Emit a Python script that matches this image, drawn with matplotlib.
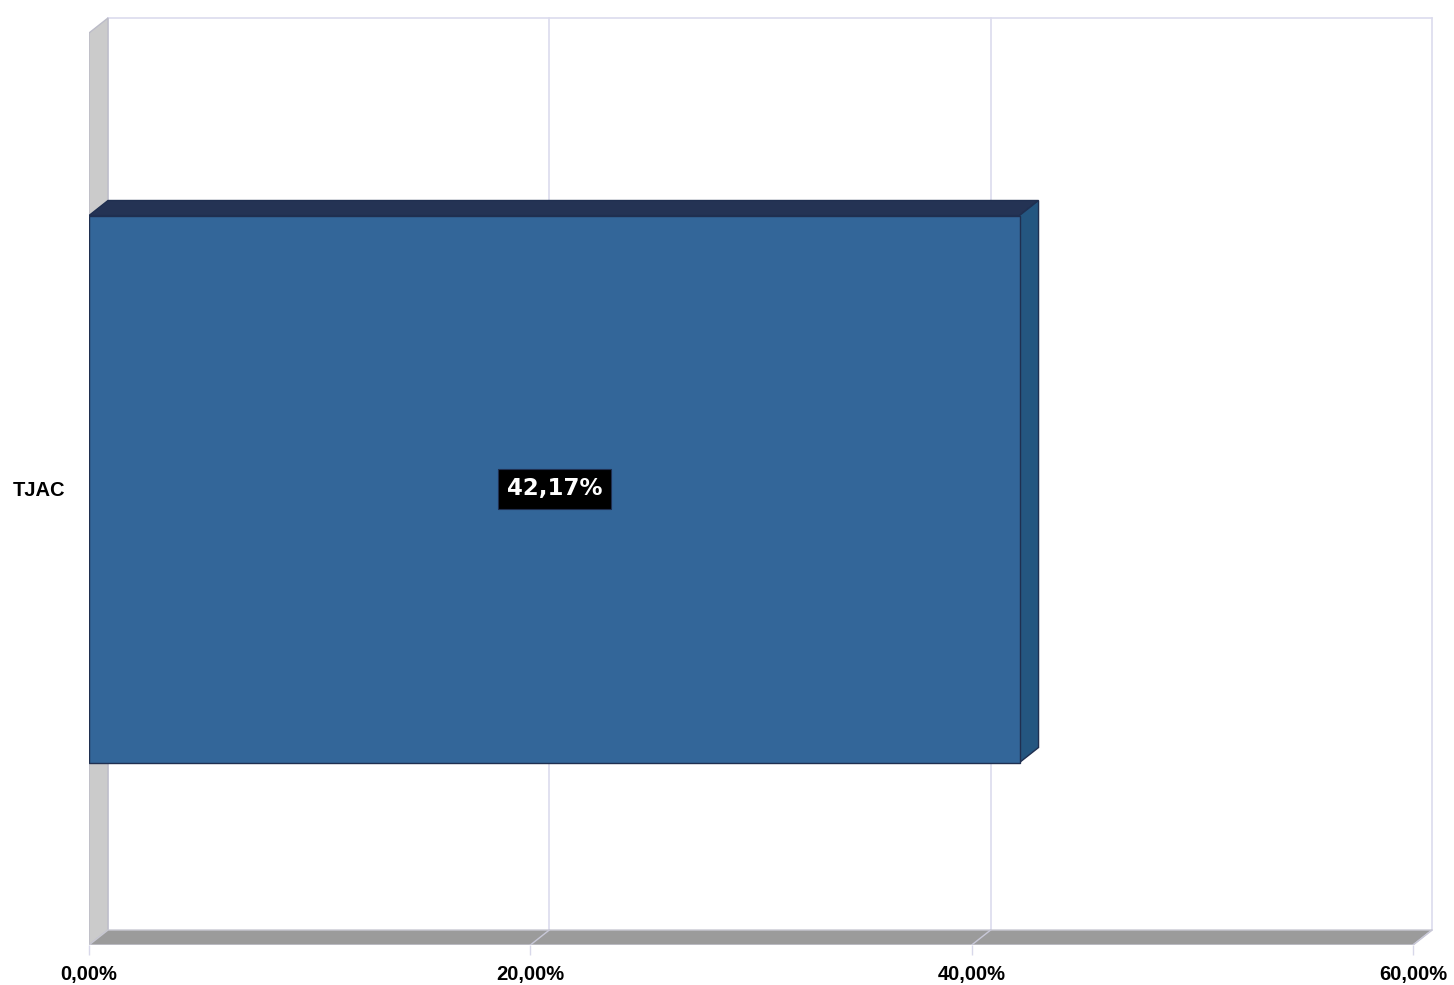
import matplotlib
matplotlib.use("Agg")
import matplotlib.pyplot as plt
from matplotlib.patches import Polygon

categories = ["TJAC"]
values = [42.17]
xticks = [0, 20, 40, 60]
xtick_labels = ["0,00%", "20,00%", "40,00%", "60,00%"]
value_labels = ["42,17%"]

W, H = 1454, 985
fig = plt.figure(figsize=(W / 100, H / 100), dpi=100)
fig.patch.set_facecolor("white")

# pixel geometry of the plot region
px_left, px_right, px_bottom, px_top = 89, 1440, 945, 10
px_per_x = (1413 - 89) / 60.0
px_per_y = 912.0
ax = fig.add_axes([px_left / W, (H - px_bottom) / H,
                   (px_right - px_left) / W, (px_bottom - px_top) / H])
ax.set_xlim(0, (px_right - px_left) / px_per_x)
ax.set_ylim(-0.5, 0.5 + (33 - px_top) / px_per_y)

dx = 19 / px_per_x
dy = 15 / px_per_y
y0, y1 = -0.5, 0.5
xmax = 60

grid_c = "#dcdcee"
# back wall gridlines
for v in xticks:
    ax.plot([v + dx, v + dx], [y0 + dy, y1 + dy], color=grid_c, lw=1.2, zorder=1)
ax.plot([dx, xmax + dx], [y1 + dy, y1 + dy], color=grid_c, lw=1.2, zorder=1)

# left wall
ax.add_patch(Polygon([(0, y0), (dx, y0 + dy), (dx, y1 + dy), (0, y1)],
                     closed=True, facecolor="#cbcbcb", edgecolor="#bcbcc8",
                     lw=1, zorder=2))
# floor
ax.add_patch(Polygon([(0, y0), (xmax, y0), (xmax + dx, y0 + dy), (dx, y0 + dy)],
                     closed=True, facecolor="#9b9b9b", edgecolor="#c8c8d2",
                     lw=1, zorder=2))
for v in xticks[1:]:
    ax.plot([v + dx, v], [y0 + dy, y0], color="#c8c8d8", lw=1, zorder=3)

# bars
bar_h = 547 / px_per_y
bars = ax.barh(range(len(categories)), values, height=bar_h, left=0,
               color="#336699", edgecolor="#1f2f50", lw=1, zorder=5)
for b, val, lab in zip(bars, values, value_labels):
    yb = b.get_y()
    yt = yb + b.get_height()
    ax.add_patch(Polygon([(0, yt), (val, yt), (val + dx, yt + dy), (dx, yt + dy)],
                         closed=True, facecolor="#243354", edgecolor="#1f2f50",
                         lw=1, zorder=4))
    ax.add_patch(Polygon([(val, yb), (val + dx, yb + dy), (val + dx, yt + dy), (val, yt)],
                         closed=True, facecolor="#245680", edgecolor="#1f2f50",
                         lw=1, zorder=4))
    ax.text(val / 2, yb + b.get_height() / 2, lab, ha="center", va="center",
            color="white", fontsize=16.5, fontweight="bold", family="DejaVu Sans",
            bbox=dict(boxstyle="square,pad=0.38", facecolor="black",
                      edgecolor="#1f2f50", lw=0.8), zorder=7)

for s in ax.spines.values():
    s.set_visible(False)
ax.set_xticks(xticks)
ax.set_xticklabels(xtick_labels, fontsize=14.5, fontweight="bold",
                   family="Liberation Sans")
ax.tick_params(axis="x", length=7.2, color="#d8d8ea", width=1, pad=7)
ax.set_yticks(range(len(categories)))
ax.set_yticklabels(categories, fontsize=14.5, fontweight="bold",
                   family="Liberation Sans")
ax.tick_params(axis="y", length=0, pad=17)
ax.set_facecolor("white")

fig.savefig("out.png", dpi=100, facecolor="white")
